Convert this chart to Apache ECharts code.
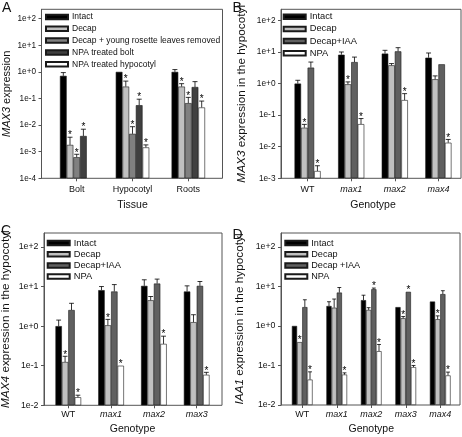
<!DOCTYPE html>
<html><head><meta charset="utf-8">
<script src="https://cdn.jsdelivr.net/npm/echarts@6/dist/echarts.min.js"></script>
<style>html,body{margin:0;padding:0;background:#fff}#c{width:462px;height:437px}</style>
</head><body><div id="c"></div>
<script>
// ---------------- DATA ----------------
// Panel A
const catsA = ['Bolt', 'Hypocotyl', 'Roots'];
const namesA = ['Intact', 'Decap', 'Decap + young rosette leaves removed', 'NPA treated bolt', 'NPA treated hypocotyl'];
const valsA = [
  [0.71, 1.0, 1.0],
  [0.0018, 0.28, 0.28],
  [0.00062, 0.0047, 0.067],
  [0.0039, 0.056, 0.27],
  [null, 0.00145, 0.046]
];
const errsA = [
  [0.94, null, 1.22],
  [0.0035, 0.45, 0.36],
  [0.0008, 0.0087, 0.11],
  [0.007, 0.094, 0.43],
  [null, 0.0018, 0.08]
];
const starsA = [
  [0, 0, 0],
  [1, 1, 1],
  [1, 1, 1],
  [1, 1, 0],
  [0, 1, 1]
];
// Panel B
const catsB = ['WT', 'max1', 'max2', 'max4'];
const namesB = ['Intact', 'Decap', 'Decap+IAA', 'NPA'];
const valsB = [
  [1.0, 8.2, 8.9, 6.6],
  [0.04, 0.95, 3.8, 1.37],
  [3.2, 4.8, 10.5, 4.08],
  [0.0017, 0.052, 0.3, 0.0134]
];
const errsB = [
  [1.27, 10, 11.3, 9.3],
  [0.051, 1.13, 4.3, 1.75],
  [4.8, 6.9, 13.7, null],
  [0.0025, 0.078, 0.48, 0.017]
];
const starsB = [
  [0, 0, 0, 0],
  [1, 1, 0, 0],
  [0, 0, 0, 0],
  [1, 1, 1, 1]
];
// Panel C
const catsC = ['WT', 'max1', 'max2', 'max3'];
const namesC = ['Intact', 'Decap', 'Decap+IAA', 'NPA'];
const valsC = [
  [1.0, 8.1, 10.4, 7.5],
  [0.124, 1.05, 4.5, 1.26],
  [2.55, 7.5, 11.9, 10.4],
  [0.016, 0.1, 0.356, 0.059]
];
const errsC = [
  [1.42, 10, 14.8, 10.4],
  [0.173, 1.48, 5.6, 1.94],
  [3.77, 11.2, 15.4, 13.4],
  [0.018, null, 0.557, 0.068]
];
const starsC = [
  [0, 0, 0, 0],
  [1, 1, 0, 0],
  [0, 0, 0, 0],
  [1, 1, 1, 1]
];
// Panel D
const catsD = ['WT', 'max1', 'max2', 'max3', 'max4'];
const namesD = ['Intact', 'Decap', 'Decap +IAA', 'NPA'];
const valsD = [
  [1.0, 3.2, 4.5, 3.0, 4.15],
  [0.39, 2.9, 2.55, 1.57, 1.48],
  [3.0, 7.0, 8.5, 7.3, 6.4],
  [0.044, 0.059, 0.23, 0.091, 0.056]
];
const errsD = [
  [null, 4.1, 6.0, null, null],
  [null, 4.8, 2.9, 1.73, 1.8],
  [4.6, 9.4, 9.1, null, 7.8],
  [0.069, 0.065, 0.34, 0.1, 0.068]
];
const starsD = [
  [0, 0, 0, 0, 0],
  [1, 0, 0, 1, 1],
  [0, 0, 1, 1, 0],
  [1, 1, 1, 1, 1]
];
const yMinA = 1e-4, yMinB = 1e-3, yMinC = 1e-2, yMinD = 1e-2, yMaxAll = 225;

// ---------------- STYLE / LAYOUT ----------------
const FONT = '"Liberation Sans", Arial, Helvetica, sans-serif';
const colorsA = ['#000000', '#c0c0c0', '#808080', '#404040', '#ffffff'];
const colorsG = ['#000000', '#c0c0c0', '#606060', '#ffffff'];
const AX = '#555';
const TXT = '#111';

const panels = [
  { cats: catsA, names: namesA, vals: valsA, errs: errsA, stars: starsA, colors: colorsA, ymin: yMinA,
    frame: { left: 41.5, top: 9.3, width: 181, height: 169 }, inner: { left: 48.8, width: 167.4 },
    yName: '{i|MAX3} expression', yNameGap: 29, yNameSize: 11, yLabelSize: 8.2,
    xName: 'Tissue', xNameGap: 21.5, xLabelMargin: 6.5, italic: false,
    legend: { left: 45, top: 12.5, gap: 2.8, font: 8.5 }, letter: { text: 'A', left: 2, top: 1.5 } },
  { cats: catsB, names: namesB, vals: valsB, errs: errsB, stars: starsB, colors: colorsG, ymin: yMinB,
    frame: { left: 281, top: 9.3, width: 180, height: 169 }, inner: { left: 285.8, width: 174.4 },
    yName: '{i|MAX3} expression in the hypocotyl', yNameGap: 33, yNameSize: 11.8, yLabelSize: 8.3,
    xName: 'Genotype', xNameGap: 21.5, xLabelMargin: 6.5, italic: true,
    legend: { left: 282.7, top: 12.2, gap: 3.2, font: 9.3 }, letter: { text: 'B', left: 232.5, top: 1.5 } },
  { cats: catsC, names: namesC, vals: valsC, errs: errsC, stars: starsC, colors: colorsG, ymin: yMinC,
    frame: { left: 44, top: 233, width: 178, height: 172.3 }, inner: { left: 46.9, width: 171.2 },
    yName: '{i|MAX4} expression in the hypocotyl', yNameGap: 32, yNameSize: 11.8, yLabelSize: 8.8,
    xName: 'Genotype', xNameGap: 18.2, xLabelMargin: 5, italic: true,
    legend: { left: 46.7, top: 238.5, gap: 2.2, font: 9.3 }, letter: { text: 'C', left: 1, top: 224.5 } },
  { cats: catsD, names: namesD, vals: valsD, errs: errsD, stars: starsD, colors: colorsG, ymin: yMinD,
    frame: { left: 281, top: 233, width: 179, height: 172 }, inner: { left: 285, width: 172.5 },
    yName: '{i|IAA1} expression in the hypocotyl', yNameGap: 35.5, yNameSize: 11.8, yLabelSize: 8.8,
    xName: 'Genotype', xNameGap: 18.4, xLabelMargin: 5.2, italic: true,
    legend: { left: 284.3, top: 238.5, gap: 2.2, font: 9.1 }, letter: { text: 'D', left: 232.5, top: 228 } }
];

function logFmt(v) {
  const l = Math.log10(v); const r = Math.round(l);
  if (Math.abs(l - r) > 1e-6) return '';
  return '1e' + (r >= 0 ? '+' : '-') + Math.abs(r);
}

const CAT_GAP = 0.4;
const option = {
  animation: false,
  backgroundColor: '#fff',
  textStyle: { fontFamily: FONT },
  grid: [], xAxis: [], yAxis: [], series: [], legend: [], title: []
};

panels.forEach(function (p, k) {
  const fg = 2 * k, ig = 2 * k + 1;
  option.grid.push({ left: p.frame.left, top: p.frame.top, width: p.frame.width, height: p.frame.height,
    show: true, borderColor: AX, borderWidth: 1, backgroundColor: 'transparent', containLabel: false, outerBoundsMode: 'none' });
  option.grid.push({ left: p.inner.left, top: p.frame.top, width: p.inner.width, height: p.frame.height,
    show: false, containLabel: false, outerBoundsMode: 'none' });
  option.xAxis.push({ gridIndex: fg, type: 'value', show: false, min: 0, max: 1 });
  option.yAxis.push({
    gridIndex: fg, type: 'log', logBase: 10, min: p.ymin, max: yMaxAll,
    name: p.yName, nameLocation: 'middle', nameGap: p.yNameGap, nameRotate: 90,
    nameTextStyle: { fontSize: p.yNameSize, color: TXT, fontFamily: FONT,
      rich: { i: { fontStyle: 'italic', fontSize: p.yNameSize, color: TXT, fontFamily: FONT } } },
    axisLine: { show: true, lineStyle: { color: AX, width: 1 } },
    axisTick: { show: true, inside: false, length: 3, lineStyle: { color: AX, width: 1 } },
    axisLabel: { fontSize: p.yLabelSize, color: TXT, margin: 5.5, formatter: logFmt, showMaxLabel: false, fontFamily: FONT },
    splitLine: { show: false }, minorTick: { show: false }
  });
  option.xAxis.push({
    gridIndex: ig, type: 'category', data: p.cats, boundaryGap: true,
    name: p.xName, nameLocation: 'middle', nameGap: p.xNameGap,
    nameTextStyle: { fontSize: 10.5, color: TXT, fontFamily: FONT },
    axisLine: { show: false },
    axisTick: { show: true, alignWithLabel: true, length: 3, lineStyle: { color: AX, width: 1 } },
    axisLabel: { fontSize: 9, color: TXT, margin: p.xLabelMargin, interval: 0, fontFamily: FONT,
      formatter: function (v) { return (p.italic && v !== 'WT') ? '{i|' + v + '}' : v; },
      rich: { i: { fontStyle: 'italic', fontSize: 9, color: TXT, fontFamily: FONT } } },
    splitLine: { show: false }
  });
  option.yAxis.push({ gridIndex: ig, type: 'log', logBase: 10, min: p.ymin, max: yMaxAll, show: false, splitLine: { show: false } });

  const n = p.names.length;
  p.names.forEach(function (name, s) {
    const stackId = 'st' + k + '_' + s;
    // invisible base so that the bar starts at the bottom of the log axis
    option.series.push({
      type: 'bar', name: 'base' + k + '_' + s, stack: stackId, xAxisIndex: ig, yAxisIndex: ig,
      barGap: '0%', barCategoryGap: (CAT_GAP * 100) + '%', silent: true,
      itemStyle: { color: 'rgba(0,0,0,0)', borderWidth: 0 },
      data: p.cats.map(function () { return p.ymin; }), z: 1
    });
    option.series.push({
      type: 'bar', name: name, stack: stackId, xAxisIndex: ig, yAxisIndex: ig,
      barGap: '0%', barCategoryGap: (CAT_GAP * 100) + '%',
      itemStyle: { color: p.colors[s], borderColor: '#1a1a1a', borderWidth: 0.6 },
      data: p.vals[s].map(function (v) { return v == null ? '-' : v - p.ymin; }),
      z: 2
    });
  });
  p.names.forEach(function (name, s) {
    option.series.push({
      type: 'custom', name: 'err' + k + '_' + s, xAxisIndex: ig, yAxisIndex: ig, z: 3, clip: false,
      data: p.vals[s].map(function (v, i) { return [i, v == null ? '-' : v]; }),
      renderItem: function (params, api) {
        const i = params.dataIndex;
        const v = p.vals[s][i];
        if (v == null) return null;
        const e = p.errs[s][i];
        const st = p.stars[s][i];
        const p0 = api.coord([i, v]);
        const band = Math.abs(api.coord([1, v])[0] - api.coord([0, v])[0]);
        const groupW = band * (1 - CAT_GAP);
        const bw = groupW / n;
        const x = p0[0] - groupW / 2 + bw * (s + 0.5);
        const cap = bw * 0.75;
        const children = [];
        let topY = p0[1];
        if (e != null) {
          const pe = api.coord([i, e]);
          children.push({ type: 'line', shape: { x1: x, y1: p0[1], x2: x, y2: pe[1] }, style: { stroke: '#000', lineWidth: 0.8 } });
          children.push({ type: 'line', shape: { x1: x - cap / 2, y1: pe[1], x2: x + cap / 2, y2: pe[1] }, style: { stroke: '#000', lineWidth: 0.8 } });
          topY = pe[1];
        }
        if (st) {
          children.push({ type: 'text', style: { x: x, y: topY + 3.5, text: '*', fontSize: 10, fontFamily: FONT, fill: '#000', align: 'center', verticalAlign: 'bottom' } });
        }
        return { type: 'group', children: children };
      }
    });
  });
  option.legend.push({
    data: p.names, orient: 'vertical', left: p.legend.left, top: p.legend.top,
    itemWidth: 22, itemHeight: 4.5, itemGap: p.legend.gap, padding: 0, icon: 'rect', selectedMode: false,
    textStyle: { fontSize: p.legend.font, color: TXT, fontFamily: FONT, padding: [0, 0, 0, -1] }
  });
  option.title.push({ text: p.letter.text, left: p.letter.left, top: p.letter.top, padding: 0,
    textStyle: { fontSize: 14, fontWeight: 'normal', color: TXT, fontFamily: FONT } });
});

const chart = echarts.init(document.getElementById('c'), null, { renderer: 'canvas' });
chart.setOption(option);
</script>
</body></html>
